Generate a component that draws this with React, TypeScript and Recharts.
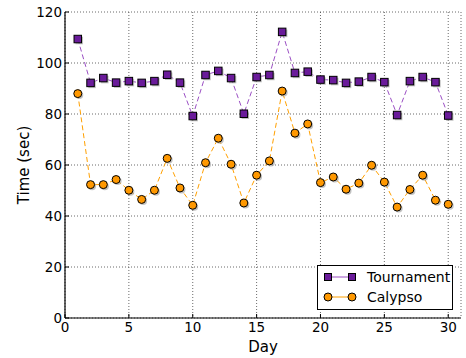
import { LineChart, Line, XAxis, YAxis, CartesianGrid } from "recharts";

const days = [1, 2, 3, 4, 5, 6, 7, 8, 9, 10, 11, 12, 13, 14, 15, 16, 17, 18, 19, 20, 21, 22, 23, 24, 25, 26, 27, 28, 29, 30];
const tournament = [109.4, 92.2, 94.1, 92.3, 92.9, 92.2, 92.9, 95.4, 92.3, 79.2, 95.3, 96.9, 94.1, 80.1, 94.5, 95.3, 112.2, 96.1, 96.6, 93.5, 93.3, 92.2, 92.7, 94.5, 92.5, 79.6, 92.9, 94.5, 92.5, 79.4];
const calypso = [88.0, 52.3, 52.3, 54.3, 50.1, 46.5, 50.1, 62.6, 51.0, 44.2, 60.9, 70.5, 60.3, 45.1, 56.0, 61.6, 89.0, 72.5, 76.1, 53.1, 55.3, 50.5, 52.9, 59.9, 53.3, 43.5, 50.4, 56.0, 46.2, 44.6];
const xTicks = [0, 5, 10, 15, 20, 25, 30];
const yTicks = [0, 20, 40, 60, 80, 100, 120];

const data = days.map((d, i) => ({ day: d, tournament: tournament[i], calypso: calypso[i] }));

const PURPLE = "#6a1b9a";
const PURPLE_LINE = "#9b4fc4";
const ORANGE = "#ff9800";
const ORANGE_LINE = "#ffa000";
const FONT = "DejaVu Sans, sans-serif";

function SquareDot(props: any) {
  const { cx, cy } = props;
  if (cx == null || cy == null) return null;
  const s = 7.5;
  return (
    <g>
      <rect x={cx - s / 2 + 1.5} y={cy - s / 2 + 1.5} width={s} height={s} fill="#999" opacity={0.6} />
      <rect x={cx - s / 2} y={cy - s / 2} width={s} height={s} fill={PURPLE} stroke="#000" strokeWidth={1} />
    </g>
  );
}

function CircleDot(props: any) {
  const { cx, cy } = props;
  if (cx == null || cy == null) return null;
  return (
    <g>
      <circle cx={cx + 1.5} cy={cy + 1.5} r={4} fill="#999" opacity={0.6} />
      <circle cx={cx} cy={cy} r={4} fill={ORANGE} stroke="#000" strokeWidth={1} />
    </g>
  );
}

// matplotlib-style ticks: label outside, tick mark pointing into the plot
function LeftTick(props: any) {
  const { x, y, payload } = props;
  return (
    <g>
      <line x1={x + 3} x2={x + 7} y1={y} y2={y} stroke="#000" />
      <text x={x} y={y} dy={5} textAnchor="end" fontSize={13.5} fontFamily={FONT} fill="#000">
        {payload.value}
      </text>
    </g>
  );
}

function BottomTick(props: any) {
  const { x, y, payload } = props;
  return (
    <g>
      <line x1={x} x2={x} y1={y - 4} y2={y - 8} stroke="#000" />
      <text x={x} y={y} dy={10} textAnchor="middle" fontSize={13.5} fontFamily={FONT} fill="#000">
        {payload.value}
      </text>
    </g>
  );
}

function RightTick(props: any) {
  const { x, y } = props;
  return <line x1={x} x2={x - 4} y1={y} y2={y} stroke="#000" />;
}

function TopTick(props: any) {
  const { x, y } = props;
  return <line x1={x} x2={x} y1={y} y2={y + 4} stroke="#000" />;
}

function LegendBox() {
  const row = (label: string, color: string, lineColor: string, square: boolean) => (
    <div style={{ display: "flex", alignItems: "center", height: 20 }}>
      <svg width={34} height={12} style={{ marginRight: 10 }}>
        <line x1={5} x2={29} y1={6} y2={6} stroke={lineColor} strokeWidth={1} />
        {square ? (
          <>
            <rect x={1.5} y={2.5} width={7} height={7} fill={color} stroke="#000" />
            <rect x={25.5} y={2.5} width={7} height={7} fill={color} stroke="#000" />
          </>
        ) : (
          <>
            <circle cx={5} cy={6} r={4} fill={color} stroke="#000" />
            <circle cx={29} cy={6} r={4} fill={color} stroke="#000" />
          </>
        )}
      </svg>
      <span>{label}</span>
    </div>
  );
  return (
    <div
      style={{
        position: "absolute",
        left: 317,
        top: 265,
        width: 136,
        height: 45,
        border: "1px solid #000",
        background: "#fff",
        boxSizing: "border-box",
        padding: "1px 0 0 5px",
        fontFamily: FONT,
        fontSize: 14,
        color: "#000",
      }}
    >
      {row("Tournament", PURPLE, PURPLE_LINE, true)}
      {row("Calypso", ORANGE, ORANGE_LINE, false)}
    </div>
  );
}

export default function App() {
  return (
    <div style={{ position: "absolute", left: 0, top: 0, width: 466, height: 358, background: "#fff" }}>
      <LineChart width={466} height={358} data={data} margin={{ top: 12, right: 5, bottom: 0, left: 5 }}>
        <CartesianGrid
          xAxisId="b"
          yAxisId="l"
          stroke="#444"
          strokeDasharray="1 2"
          strokeWidth={0.8}
          horizontal
          vertical
        />
        <XAxis
          xAxisId="b"
          dataKey="day"
          type="number"
          domain={[0, 31]}
          ticks={xTicks}
          tick={<BottomTick />}
          tickLine={false}
          tickSize={0}
          tickMargin={4}
          height={40}
          axisLine={{ stroke: "#000", strokeWidth: 1.2 }}
          label={{ value: "Day", position: "insideBottom", offset: 6, fontSize: 15, fontFamily: FONT, fill: "#000" }}
        />
        <XAxis
          xAxisId="t"
          orientation="top"
          dataKey="day"
          type="number"
          domain={[0, 31]}
          ticks={xTicks}
          tick={<TopTick />}
          tickLine={false}
          tickSize={0}
          tickMargin={0}
          height={0}
          axisLine={{ stroke: "#000", strokeWidth: 1.2 }}
        />
        <YAxis
          yAxisId="l"
          domain={[0, 120]}
          ticks={yTicks}
          tick={<LeftTick />}
          tickLine={false}
          tickSize={0}
          tickMargin={3}
          width={60}
          axisLine={{ stroke: "#000", strokeWidth: 1.2 }}
          label={{ value: "Time (sec)", angle: -90, position: "insideLeft", offset: 19, fontSize: 15, fontFamily: FONT, fill: "#000", style: { textAnchor: "middle" } }}
        />
        <YAxis
          yAxisId="r"
          orientation="right"
          domain={[0, 120]}
          ticks={yTicks}
          tick={<RightTick />}
          tickLine={false}
          tickSize={0}
          tickMargin={0}
          width={0}
          axisLine={{ stroke: "#000", strokeWidth: 1.2 }}
        />
        <Line
          xAxisId="b"
          yAxisId="l"
          dataKey="tournament"
          name="Tournament"
          stroke={PURPLE_LINE}
          strokeWidth={1}
          strokeDasharray="5 3"
          dot={<SquareDot />}
          activeDot={false}
          isAnimationActive={false}
        />
        <Line
          xAxisId="b"
          yAxisId="l"
          dataKey="calypso"
          name="Calypso"
          stroke={ORANGE_LINE}
          strokeWidth={1}
          strokeDasharray="5 3"
          dot={<CircleDot />}
          activeDot={false}
          isAnimationActive={false}
        />
      </LineChart>
      <LegendBox />
    </div>
  );
}
